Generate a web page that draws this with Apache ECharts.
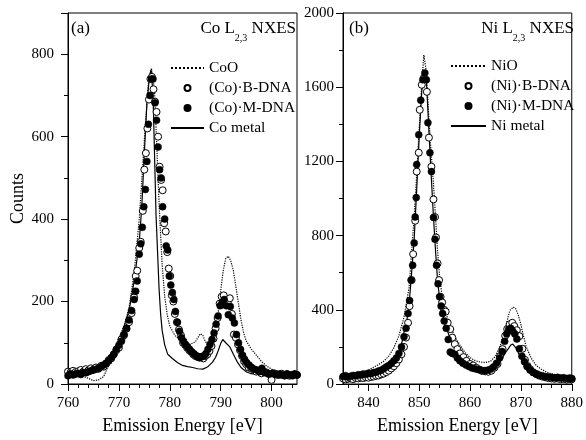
<!DOCTYPE html>
<html><head><meta charset="utf-8">
<script src="https://cdn.jsdelivr.net/npm/echarts@6/dist/echarts.min.js"></script>
<style>html,body{margin:0;padding:0;background:#fff}#c{width:586px;height:440px}</style>
</head><body><div id="c"></div>
<script>
// ---- data ----
const namesCo = ['CoO', '(Co)·B-DNA', '(Co)·M-DNA', 'Co metal'];
const namesNi = ['NiO', '(Ni)·B-DNA', '(Ni)·M-DNA', 'Ni metal'];
const ticksCoMajor = [760, 770, 780, 790, 800];
const ticksNiMajor = [840, 850, 860, 870, 880];
const ticksNiMinor = [836, 838, 842, 844, 846, 848, 852, 854, 856, 858, 862, 864, 866, 868, 872, 874, 876, 878];

const coO = [[760,22],[761,22],[762,20],[763,18],[764,14],[765,8],[766,10],[767,18],[768,45],[769,80],[770,112],[771,140],[772,185],[773,270],[774,400],[775,590],[775.8,730],[776.4,766],[777,712],[777.5,560],[778,410],[778.5,290],[779,212],[779.5,168],[780,140],[781,118],[782,106],[783,100],[784,96],[785,102],[786,122],[786.5,118],[787,102],[787.5,100],[788,110],[789,135],[789.5,170],[790,225],[790.5,275],[791,305],[791.5,310],[792,298],[792.5,275],[793,235],[793.5,195],[794,155],[794.5,125],[795,105],[796,85],[797,70],[798,55],[799,44],[800,36],[801,30],[802,26],[803,24],[805,22]];

const coMetal = [[760,30],[762,30],[764,32],[766,40],[767,48],[768,56],[769,66],[770,98],[771,138],[772,178],[773,250],[774,345],[774.5,430],[775,560],[775.5,680],[776,745],[776.3,762],[776.7,706],[777,560],[777.3,410],[777.6,320],[777.9,230],[778.2,170],[778.5,130],[779,95],[779.6,72],[780.5,62],[781.5,52],[782.5,45],[783.5,42],[784.5,40],[785.5,37],[786.5,36],[787.5,42],[788.4,53],[789,65],[789.5,80],[790,98],[790.4,108],[791,100],[791.8,90],[792.5,72],[793.3,53],[794,40],[795.1,29],[796,25],[798,22],[800,20],[802,20],[805,18]];

const coBDNA = [[760,30],[760.5,28],[761,32],[761.5,29],[762,31],[762.5,34],[763,30],[763.5,36],[764,33],[764.5,38],[765,35],[765.5,40],[766,37],[766.5,44],[767,42],[767.5,50],[768,58],[768.5,62],[769,72],[769.5,82],[770,88],[770.5,108],[771,118],[771.5,134],[772,150],[772.5,172],[773,210],[773.3,262],[773.6,275],[774,330],[774.3,345],[774.7,420],[775,520],[775.3,560],[775.6,620],[775.9,690],[776.2,740],[776.5,745],[776.8,715],[777.1,685],[777.4,660],[777.7,600],[778,527],[778.3,495],[778.6,470],[778.9,390],[779.2,370],[779.5,320],[779.8,280],[780.1,262],[780.4,215],[780.7,200],[781,170],[781.4,150],[781.8,132],[782.2,118],[782.6,100],[783,95],[783.4,88],[783.8,82],[784.2,78],[784.6,72],[785,68],[785.4,66],[785.8,64],[786.2,66],[786.6,62],[787,68],[787.4,72],[787.8,80],[788.2,92],[788.6,110],[789,135],[789.4,160],[789.8,195],[790.2,212],[790.6,215],[791,200],[791.4,198],[791.8,208],[792.2,170],[792.6,120],[793,112],[793.4,96],[793.8,82],[794.2,68],[794.6,55],[795,48],[795.5,40],[796,38],[796.5,34],[797,30],[797.5,32],[798,26],[798.5,30],[799,28],[799.5,24],[800,10],[800.5,26],[801,24],[801.5,22],[802,25],[802.5,21],[803,24],[803.5,20],[804,22],[804.5,24],[805,22]];

const coMDNA = [[760,20],[760.5,25],[761,22],[761.5,24],[762,26],[762.5,23],[763,28],[763.5,27],[764,30],[764.5,32],[765,34],[765.5,36],[766,38],[766.5,42],[767,46],[767.5,50],[768,56],[768.5,64],[769,72],[769.5,84],[770,94],[770.5,104],[771,120],[771.5,135],[772,155],[772.5,178],[773,205],[773.3,225],[773.6,250],[774,315],[774.3,340],[774.6,380],[774.9,430],[775.2,472],[775.5,540],[775.8,630],[776.1,700],[776.4,740],[776.7,740],[777.1,682],[777.4,640],[777.7,575],[778,520],[778.3,500],[778.6,430],[779,400],[779.3,335],[779.6,325],[779.9,262],[780.2,240],[780.5,222],[780.8,205],[781.1,176],[781.5,150],[781.9,128],[782.3,112],[782.7,104],[783.1,96],[783.5,90],[783.9,84],[784.3,78],[784.7,74],[785.1,70],[785.5,66],[785.9,64],[786.3,66],[786.7,68],[787.1,74],[787.5,84],[787.9,96],[788.3,108],[788.7,124],[789.1,145],[789.5,165],[789.9,190],[790.3,198],[790.7,205],[791.1,190],[791.5,168],[791.9,188],[792.3,160],[792.7,148],[793.1,120],[793.5,100],[793.9,84],[794.3,70],[794.7,60],[795.1,52],[795.6,46],[796.1,40],[796.6,36],[797.1,34],[797.6,30],[798.1,38],[798.6,28],[799.1,26],[799.6,24],[800.1,26],[800.6,24],[801.1,22],[801.6,24],[802.1,22],[802.6,20],[803.1,24],[803.6,22],[804.1,20],[804.6,24],[805,22]];

const niO = [[835,40],[836,44],[837,50],[838,58],[839,65],[840,75],[841,90],[842,105],[843,122],[844,150],[845,195],[846,260],[847,360],[848,520],[849,900],[849.5,1130],[850,1380],[850.5,1620],[850.9,1774],[851.3,1700],[851.8,1480],[852.3,1260],[852.8,1080],[853.2,900],[853.6,720],[854,580],[854.5,470],[855,400],[856,320],[857,255],[858,210],[859,170],[860,142],[861,126],[862,118],[863,116],[864,122],[865,150],[866,210],[867,310],[867.8,395],[868.5,415],[869,405],[869.5,370],[870,320],[870.5,260],[871,205],[872,140],[873,100],[874,80],[875,65],[876,55],[877,48],[878,42],[880,38]];

const niMetal = [[835,35],[836,38],[837,42],[838,47],[839,52],[840,58],[841,66],[842,76],[843,88],[844,108],[845,132],[846,172],[846.6,225],[847,280],[847.6,350],[848,430],[848.4,565],[849,780],[849.5,1050],[850,1340],[850.5,1580],[851,1680],[851.4,1640],[851.8,1420],[852.3,1150],[852.8,900],[853.2,720],[853.6,560],[854,460],[854.5,385],[855,330],[856,250],[857,190],[858,145],[859,115],[860,95],[861,82],[862,75],[863,75],[864,80],[865,95],[866,125],[867,170],[868,210],[868.4,215],[869,195],[870,140],[871,95],[872,70],[873,55],[874,45],[876,36],[878,30],[880,28]];

const niBDNA = [[835,30],[835.5,25],[836,28],[836.5,30],[837,26],[837.5,32],[838,30],[838.5,34],[839,32],[839.5,36],[840,34],[840.5,38],[841,40],[841.5,44],[842,46],[842.5,52],[843,56],[843.5,64],[844,72],[844.5,84],[845,96],[845.5,112],[846,132],[846.5,160],[847,200],[847.4,250],[847.8,330],[848.1,420],[848.5,560],[848.8,700],[849.2,880],[849.5,1145],[849.9,1247],[850.1,1478],[850.5,1613],[850.9,1650],[851.5,1575],[851.9,1328],[852.4,1172],[852.8,995],[853.1,900],[853.3,790],[853.6,650],[853.9,560],[854.2,470],[854.5,440],[854.9,400],[855.2,390],[855.6,330],[856.1,296],[856.5,250],[857,215],[857.5,188],[858,165],[858.7,145],[859.3,125],[860,108],[860.6,100],[861.2,88],[861.8,78],[862.4,70],[863,68],[863.6,66],[864.2,72],[864.8,88],[865.4,108],[865.9,150],[866.4,188],[866.9,260],[867.3,296],[867.8,322],[868.3,330],[868.7,312],[869.2,290],[869.7,258],[870.3,190],[870.8,130],[871.3,97],[871.8,80],[872.4,64],[873,54],[873.6,45],[874.2,40],[874.8,36],[875.4,32],[876,30],[876.6,28],[877.2,30],[877.8,26],[878.4,28],[879,24],[879.6,27],[880,25]];

const niMDNA = [[835,40],[835.5,45],[836,38],[836.5,42],[837,46],[837.5,44],[838,50],[838.5,48],[839,54],[839.5,52],[840,58],[840.5,56],[841,62],[841.5,64],[842,70],[842.5,74],[843,82],[843.5,92],[844,100],[844.5,110],[845,125],[845.5,140],[846,165],[846.5,200],[847,255],[847.4,300],[847.8,380],[848.1,450],[848.4,560],[848.7,640],[849,760],[849.2,900],[849.4,1005],[849.5,1183],[849.9,1344],[850.3,1530],[850.7,1640],[851.1,1677],[851.4,1640],[851.7,1409],[852.1,1247],[852.4,1145],[852.8,898],[853.1,780],[853.4,640],[853.7,540],[854,470],[854.3,420],[854.6,380],[854.9,340],[855.3,300],[855.7,240],[856.1,172],[856.5,165],[857,160],[857.5,140],[858,125],[858.6,112],[859.2,102],[859.8,94],[860.4,86],[861,82],[861.6,78],[862.2,74],[862.8,72],[863.4,74],[864,80],[864.6,92],[865.2,112],[865.8,140],[866.3,175],[866.8,230],[867.2,270],[867.6,295],[868,300],[868.4,285],[868.8,270],[869.2,242],[869.7,190],[870.2,150],[870.7,120],[871.2,95],[871.8,75],[872.4,62],[873,54],[873.6,48],[874.2,44],[874.8,40],[875.4,38],[876,36],[876.6,34],[877.2,36],[877.8,32],[878.4,34],[879,30],[879.6,32],[880,30]];

// ---- chart ----
const FONT = 'Liberation Serif';
const chart = echarts.init(document.getElementById('c'), null, {renderer: 'canvas'});
const plain = v => String(v);

const xAxes = [
  { // panel a
    type: 'value', gridIndex: 0, min: 760, max: 805, interval: 10,
    name: 'Emission Energy [eV]', nameLocation: 'middle', nameGap: 33,
    nameTextStyle: {fontFamily: FONT, fontSize: 18, color: '#000'},
    axisLine: {onZero: false, lineStyle: {color: '#000', width: 1}},
    axisTick: {show: true, inside: false, length: 7, lineStyle: {color: '#000'}, customValues: ticksCoMajor},
    minorTick: {show: true, splitNumber: 5, length: 4, lineStyle: {color: '#000'}},
    axisLabel: {fontFamily: FONT, fontSize: 15, color: '#000', margin: 12, formatter: plain, customValues: ticksCoMajor},
    splitLine: {show: false}
  },
  { // panel b
    type: 'value', gridIndex: 1, min: 835, max: 880, interval: 5,
    name: 'Emission Energy [eV]', nameLocation: 'middle', nameGap: 33,
    nameTextStyle: {fontFamily: FONT, fontSize: 18, color: '#000'},
    axisLine: {onZero: false, lineStyle: {color: '#000', width: 1}},
    axisTick: {show: true, inside: false, length: 7, lineStyle: {color: '#000'}, customValues: ticksNiMajor},
    minorTick: {show: false},
    axisLabel: {fontFamily: FONT, fontSize: 15, color: '#000', margin: 12, formatter: plain, customValues: ticksNiMajor},
    splitLine: {show: false}
  },
  { // panel b minor ticks
    type: 'value', gridIndex: 1, min: 835, max: 880, position: 'bottom',
    axisLine: {show: false, onZero: false},
    axisTick: {show: true, inside: false, length: 4, lineStyle: {color: '#000'}, customValues: ticksNiMinor},
    axisLabel: {show: false},
    splitLine: {show: false}
  }
];
function yAx(gi, max, interval, name, margin) {
  return {
    type: 'value', gridIndex: gi, min: 0, max: max, interval: interval,
    name: name, nameLocation: 'middle', nameGap: 40,
    nameTextStyle: {fontFamily: FONT, fontSize: 18, color: '#000'},
    axisLine: {onZero: false, lineStyle: {color: '#000', width: 1}},
    axisTick: {show: true, inside: false, length: 7, lineStyle: {color: '#000'}},
    minorTick: {show: true, splitNumber: 2, length: 4, lineStyle: {color: '#000'}},
    axisLabel: {fontFamily: FONT, fontSize: 15, color: '#000', margin: margin, showMaxLabel: gi === 1, formatter: plain},
    splitLine: {show: false}
  };
}
function lineS(name, data, gi, type) {
  return {name: name, type: 'line', xAxisIndex: gi, yAxisIndex: gi, data: data,
    symbol: 'none', showSymbol: false, smooth: false, animation: false,
    lineStyle: {color: '#000', width: 1.2, type: type}, itemStyle: {color: '#000'}, z: 2};
}
function scatS(name, data, gi, filled) {
  return {name: name, type: 'scatter', xAxisIndex: gi, yAxisIndex: gi, data: data,
    symbol: 'circle', symbolSize: 7, animation: false,
    itemStyle: filled ? {color: '#000', borderColor: '#000', borderWidth: 0.5, opacity: 1}
                      : {color: '#fff', borderColor: '#000', borderWidth: 1, opacity: 1},
    z: filled ? 4 : 3};
}
const rich = {
  a: {fontFamily: FONT, fontSize: 17, fontWeight: 'normal', color: '#000'},
  s: {fontFamily: FONT, fontSize: 10, fontWeight: 'normal', color: '#000', verticalAlign: 'bottom', padding: [0, 0, -6, 0]}
};
const legStyle = {fontFamily: FONT, fontSize: 15.5, color: '#000'};
function legData(names) {
  return names.map((n, i) => (i === 0 || i === 3)
    ? {name: n, itemStyle: {opacity: 0}}
    : {name: n, itemStyle: {opacity: 1}});
}

chart.setOption({
  animation: false,
  backgroundColor: '#fff',
  title: [
    {text: '(a)', left: 71, top: 20, padding: 0, textStyle: {fontFamily: FONT, fontSize: 17, fontWeight: 'normal', color: '#000'}},
    {text: '{a|Co L}{s|2,3}{a| NXES}', right: 290, top: 20, padding: 0, textStyle: {fontWeight: 'normal', rich: rich}},
    {text: '(b)', left: 349, top: 20, padding: 0, textStyle: {fontFamily: FONT, fontSize: 17, fontWeight: 'normal', color: '#000'}},
    {text: '{a|Ni L}{s|2,3}{a| NXES}', right: 12, top: 20, padding: 0, textStyle: {fontWeight: 'normal', rich: rich}}
  ],
  legend: [
    {data: legData(namesCo), orient: 'vertical', left: 170, top: 60, itemWidth: 33, itemHeight: 6, itemGap: 4,
     textStyle: legStyle, padding: 0, selectedMode: false},
    {data: legData(namesNi), orient: 'vertical', left: 450, top: 58, itemWidth: 35, itemHeight: 6, itemGap: 4,
     textStyle: legStyle, padding: 0, selectedMode: false}
  ],
  grid: [
    {left: 68, top: 13, width: 229, height: 372, show: true, borderColor: '#000', borderWidth: 1, backgroundColor: 'transparent'},
    {left: 343, top: 13, width: 232, height: 372, show: true, borderColor: '#000', borderWidth: 1, backgroundColor: 'transparent'}
  ],
  xAxis: xAxes,
  yAxis: [yAx(0, 900, 200, 'Counts', 14), yAx(1, 2000, 400, '', 9)],
  series: [
    lineS(namesCo[0], coO, 0, 'dotted'),
    lineS(namesCo[3], coMetal, 0, 'solid'),
    scatS(namesCo[1], coBDNA, 0, false),
    scatS(namesCo[2], coMDNA, 0, true),
    lineS(namesNi[0], niO, 1, 'dotted'),
    lineS(namesNi[3], niMetal, 1, 'solid'),
    scatS(namesNi[1], niBDNA, 1, false),
    scatS(namesNi[2], niMDNA, 1, true)
  ]
});
</script>
</body></html>
